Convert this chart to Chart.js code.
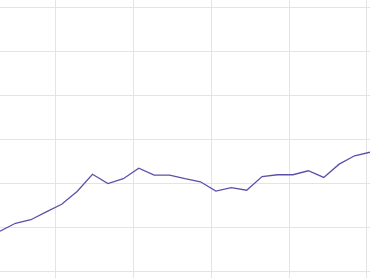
<!DOCTYPE html>
<html>
<head>
<meta charset="utf-8">
<script src="https://cdn.jsdelivr.net/npm/chart.js@4/dist/chart.umd.min.js"></script>
<style>
  html, body { margin: 0; padding: 0; background: #fff; overflow: hidden; }
  #chart { display: block; }
</style>
</head>
<body>
<canvas id="chart" width="370" height="278"></canvas>
<script>
// series values, one per step along x
var values = [9.2, 11.0, 11.8, 13.6, 15.3, 18.2, 22.1, 20.0, 21.1, 23.5,
              21.9, 21.9, 21.1, 20.4, 18.3, 19.1, 18.5, 21.6, 22.0, 22.0,
              22.9, 21.4, 24.4, 26.3, 27.1];
var steps = values.map(function (v, i) { return i; });

// grid ticks (labels are hidden in this crop)
var xTicks = [3.57, 8.63, 13.69, 18.75, 23.8];
var yTicks = [0, 10, 20, 30, 40, 50, 60];

var points = steps.map(function (s, i) { return { x: s, y: values[i] }; });

var gridColor = '#e4e4e4';

new Chart(document.getElementById('chart').getContext('2d'), {
  type: 'line',
  data: {
    datasets: [{
      data: points,
      borderColor: '#5a50aa',
      borderWidth: 1.3,
      pointRadius: 0,
      tension: 0,
      fill: false
    }]
  },
  options: {
    responsive: false,
    animation: false,
    layout: { padding: 0 },
    plugins: {
      legend: { display: false },
      tooltip: { enabled: false }
    },
    scales: {
      x: {
        type: 'linear',
        min: 0,
        max: 24,
        border: { display: false },
        grid: { color: gridColor, drawTicks: false, lineWidth: 1 },
        ticks: { display: false },
        afterBuildTicks: function (axis) {
          axis.ticks = xTicks.map(function (v) { return { value: v }; });
        }
      },
      y: {
        min: -1.4,
        max: 61.6,
        border: { display: false },
        grid: { color: gridColor, drawTicks: false, lineWidth: 1 },
        ticks: { display: false },
        afterBuildTicks: function (axis) {
          axis.ticks = yTicks.map(function (v) { return { value: v }; });
        }
      }
    }
  }
});
</script>
</body>
</html>
